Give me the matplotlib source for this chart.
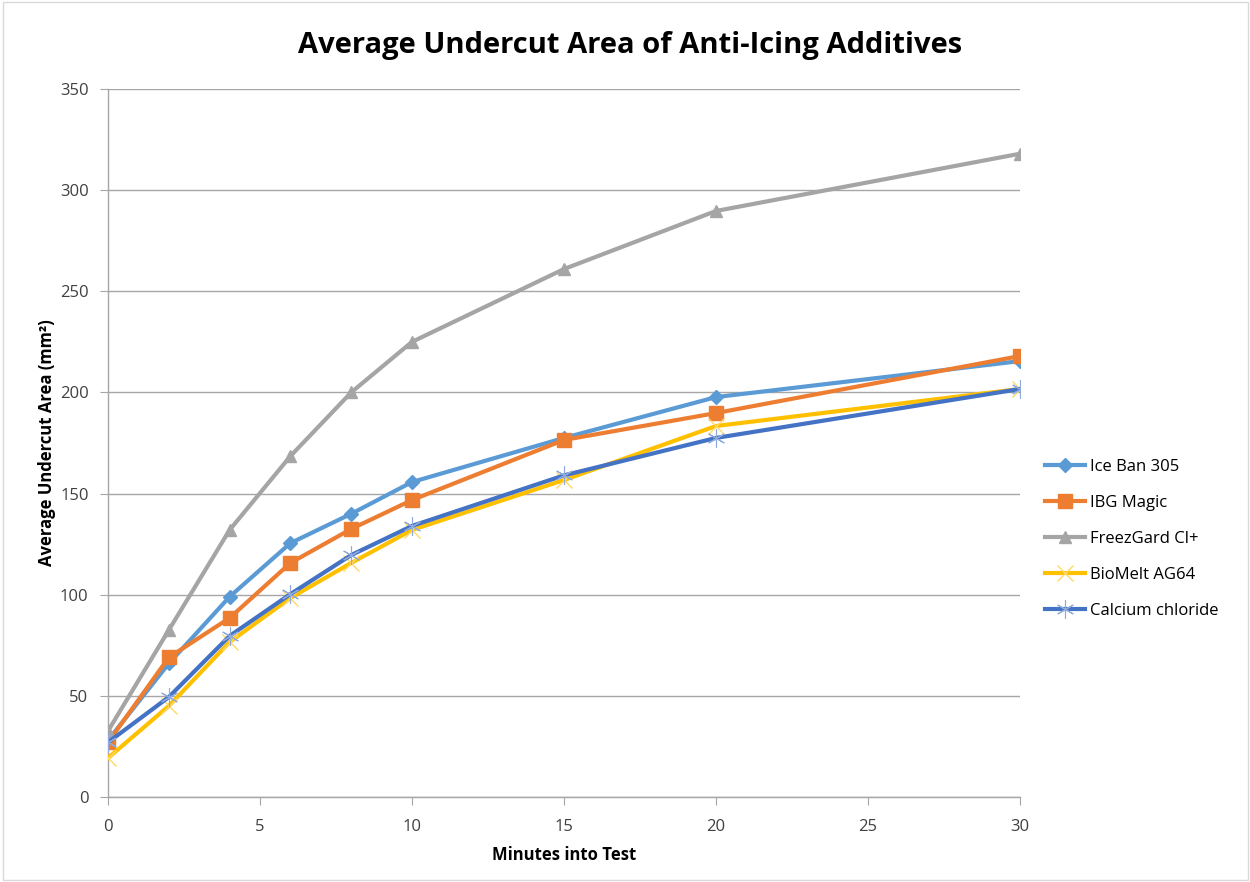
import matplotlib
matplotlib.use("Agg")
import matplotlib.pyplot as plt
from matplotlib.patches import Rectangle

plt.rcParams['font.family'] = ['Open Sans', 'DejaVu Sans']

minutes = [0, 2, 4, 6, 8, 10, 15, 20, 30]
ice_ban = [28, 66, 99, 125.5, 140, 155.7, 177.5, 197.7, 215.5]
ibg_magic = [27, 69, 88.5, 115.7, 132.5, 146.8, 176.5, 189.8, 218]
freezgard = [32.6, 82.5, 132, 168.5, 200, 225, 261, 289.7, 318]
biomelt = [19.3, 45, 76.6, 98.4, 115.7, 132, 156.7, 183.4, 201.7]
calcium = [27, 49.4, 79.6, 100.3, 119.6, 134, 159, 177.5, 201.7]

series_names = ["Ice Ban 305", "IBG Magic", "FreezGard Cl+", "BioMelt AG64", "Calcium chloride"]

fig = plt.figure(figsize=(12.5, 8.82), dpi=100)
W, H = 1250, 882
ax = fig.add_axes([108 / W, 1 - 797 / H, (1020 - 108) / W, (797 - 89) / H])

styles = [
    (ice_ban, "#5B9BD5", "D", 7, 1.0),
    (ibg_magic, "#ED7D31", "s", 10, 1.0),
    (freezgard, "#A5A5A5", "^", 9, 1.0),
    (biomelt, "#FFC000", "x", 11, 1.0),
    (calcium, "#4472C4", (6, 2, 0), 13, 0.8),
]
for (vals, col, mk, ms, mew), name in zip(styles, series_names):
    if mk == "x" or isinstance(mk, tuple):
        ax.plot(minutes, vals, color=col, lw=3, marker=mk, ms=ms, mew=mew,
                mec="#8FAADC" if isinstance(mk, tuple) else "#FFD966",
                label=name, zorder=3)
    else:
        ax.plot(minutes, vals, color=col, lw=3, marker=mk, ms=ms, mfc=col,
                mec=col, label=name, zorder=3)

ax.set_xlim(0, 30)
ax.set_ylim(0, 350)
ax.set_yticks(range(0, 351, 50))
ax.set_xticks(range(0, 31, 5))
ax.yaxis.grid(True, color="#A6A6A6", lw=1)
ax.set_axisbelow(True)
for s in ["top", "right"]:
    ax.spines[s].set_visible(False)
for s in ["left", "bottom"]:
    ax.spines[s].set_color("#A6A6A6")
    ax.spines[s].set_linewidth(1)
ax.tick_params(axis="both", length=6, color="#A6A6A6", direction="out",
               labelsize=12, labelcolor="#404040")
ax.tick_params(axis="y", pad=8)
ax.tick_params(axis="x", pad=10)

ax.set_xlabel("Minutes into Test", fontsize=12, fontweight="bold", labelpad=8)
ax.set_ylabel("Average Undercut Area (mm²)", fontsize=12, fontweight="bold", labelpad=3)

fig.text(630 / W, 1 - 45 / H, "Average Undercut Area of Anti-Icing Additives",
         ha="center", va="center", fontsize=21, fontweight="bold")

leg = ax.legend(loc="center left", bbox_to_anchor=(1030 / W, 1 - 539 / H),
                bbox_transform=fig.transFigure, frameon=False, fontsize=12,
                handlelength=2.4, labelspacing=1.2, handletextpad=0.3)

fig.patches.append(Rectangle((0.002, 0.002), 0.996, 0.996, transform=fig.transFigure,
                             fill=False, edgecolor="#D9D9D9", lw=1))

fig.savefig("out.png", dpi=100)
